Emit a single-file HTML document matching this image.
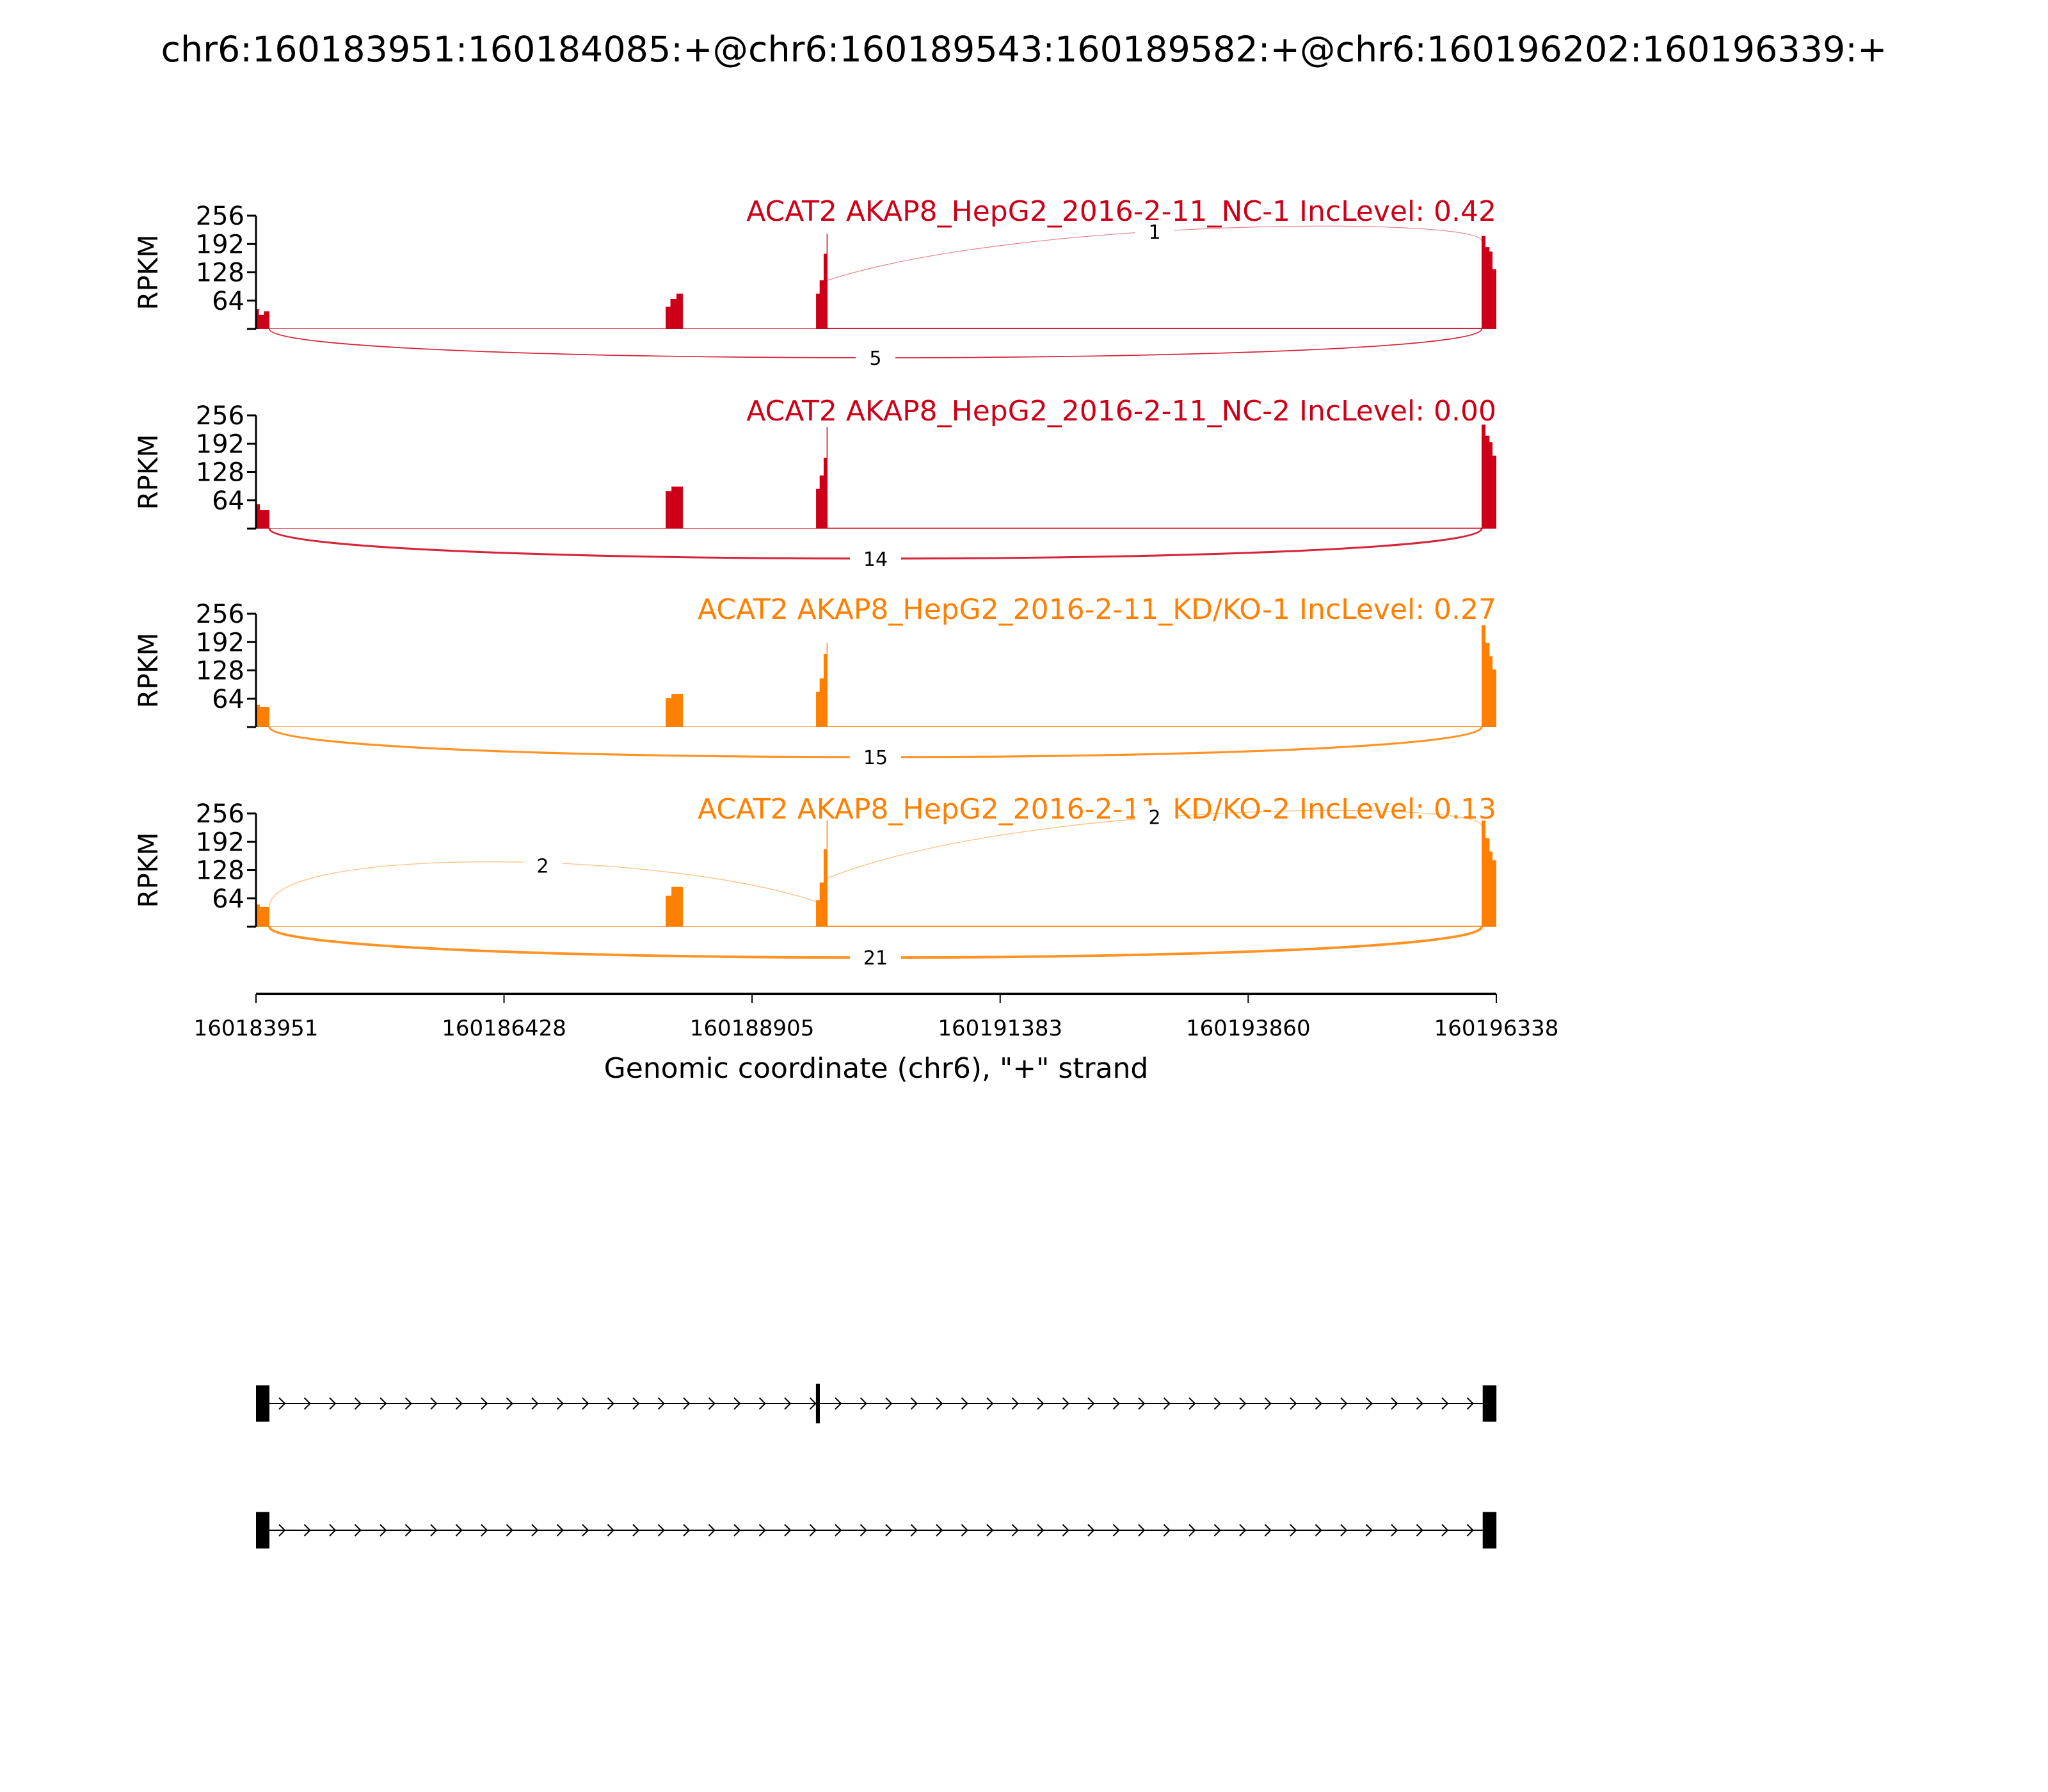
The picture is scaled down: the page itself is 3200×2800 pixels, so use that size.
<!DOCTYPE html>
<html><head><meta charset="utf-8"><style>
body{margin:0;background:#fff}
svg{display:block;font-family:"DejaVu Sans","Liberation Sans",sans-serif}
</style></head><body>
<svg id="fig" width="3200" height="2800" viewBox="0 0 3200 2800" xmlns="http://www.w3.org/2000/svg">
<rect width="3200" height="2800" fill="#fff"/>
<text x="1600" y="96" font-size="55.5" text-anchor="middle">chr6:160183951:160184085:+@chr6:160189543:160189582:+@chr6:160196202:160196339:+</text>
<g id="panels"></g>
<g id="xaxis"></g>
<g id="genes"></g>
</svg>
<script>
const gStart = 160183951, gEnd = 160196338;
const sampleNames = ["ACAT2 AKAP8_HepG2_2016-2-11_NC-1 IncLevel: 0.42","ACAT2 AKAP8_HepG2_2016-2-11_NC-2 IncLevel: 0.00","ACAT2 AKAP8_HepG2_2016-2-11_KD/KO-1 IncLevel: 0.27","ACAT2 AKAP8_HepG2_2016-2-11_KD/KO-2 IncLevel: 0.13"];
const sampleColors = ["#cc0018","#cc0018","#ff8000","#ff8000"];
const yTicks = [0,64,128,192,256];
const yMax = 256;
// coverage: [genomic start, genomic end, rpkm]
const cov1 = [[160183951,160183980,45],[160183980,160184030,32],[160184030,160184085,40],[160184085,160188042,1],[160188042,160188090,50],[160188090,160188150,68],[160188150,160188214,80],[160188214,160189544,1],[160189544,160189580,80],[160189580,160189620,110],[160189620,160189650,170],[160189650,160189659,215],[160189659,160196191,2],[160196191,160196230,210],[160196230,160196270,185],[160196270,160196300,175],[160196300,160196338,135]];
const cov2 = [[160183951,160183990,55],[160183990,160184085,42],[160184085,160188042,1],[160188042,160188100,85],[160188100,160188214,95],[160188214,160189544,1],[160189544,160189580,90],[160189580,160189620,120],[160189620,160189650,160],[160189650,160189659,230],[160189659,160196191,2],[160196191,160196230,235],[160196230,160196270,210],[160196270,160196300,195],[160196300,160196338,165]];
const cov3 = [[160183951,160183990,50],[160183990,160184085,45],[160184085,160188042,1],[160188042,160188100,65],[160188100,160188214,75],[160188214,160189544,1],[160189544,160189580,80],[160189580,160189620,110],[160189620,160189650,165],[160189650,160189659,190],[160189659,160196191,2],[160196191,160196230,230],[160196230,160196270,190],[160196270,160196300,160],[160196300,160196338,130]];
const cov4 = [[160183951,160183990,50],[160183990,160184085,45],[160184085,160188042,1],[160188042,160188100,70],[160188100,160188214,90],[160188214,160189544,1],[160189544,160189580,60],[160189580,160189620,100],[160189620,160189650,175],[160189650,160189659,240],[160189659,160196191,2],[160196191,160196230,240],[160196230,160196270,200],[160196270,160196300,170],[160196300,160196338,150]];
const coverages = [cov1,cov2,cov3,cov4];
// junctions: [donor, acceptor, count, above(1)/below(0)]
const junc1 = [[160189659,160196191,1,1],[160184085,160196191,5,0]];
const junc2 = [[160184085,160196191,14,0]];
const junc3 = [[160184085,160196191,15,0]];
const junc4 = [[160184085,160189544,2,1],[160189659,160196191,2,1],[160184085,160196191,21,0]];
const junctions = [junc1,junc2,junc3,junc4];
const xTicks = [160183951,160186428,160188905,160191383,160193860,160196338];
const geneExons1 = [[160183951,160184085],[160189543,160189582],[160196202,160196339]];
const geneExons2 = [[160183951,160184085],[160196202,160196339]];

const NS = "http://www.w3.org/2000/svg";
const X0 = 400, X1 = 2338;
const baselines = [514,826,1136,1448], PH = 177;
const x = g => X0 + (g - gStart) / (gEnd - gStart) * (X1 - X0);
function mk(tag, attrs, parent){const e=document.createElementNS(NS,tag);for(const k in attrs)e.setAttribute(k,attrs[k]);parent.appendChild(e);return e;}
const panels = document.getElementById('panels');
coverages.forEach((cov, i) => {
  const base = baselines[i], col = sampleColors[i];
  const y = v => base - v / yMax * PH;
  const g = mk('g', {}, panels);
  
  
  let d = 'M' + x(cov[0][0]) + ' ' + base;
  cov.forEach(s => { d += ' L' + x(s[0]) + ' ' + y(s[2]) + ' L' + x(s[1]) + ' ' + y(s[2]); });
  d += ' L' + x(cov[cov.length-1][1]) + ' ' + base + ' Z';
  const area = mk('path', {d: d, fill: col, stroke: 'none'}, g);
  
  
  const ax = mk('line', {x1: X0, x2: X0, y1: y(yMax), y2: base, stroke: '#000', 'stroke-width': 3}, g);
  
  
  yTicks.forEach(t => {
    mk('line', {x1: X0 - 14, x2: X0, y1: y(t), y2: y(t), stroke: '#000', 'stroke-width': 3}, g);
    if (t > 0) {
      const tl = mk('text', {x: X0 - 18, y: y(t) + 14, 'font-size': 40, 'text-anchor': 'end'}, g);
      
      
      tl.textContent = t;
    }
  });
  const yl = mk('text', {x: 0, y: 0, 'font-size': 42, 'text-anchor': 'middle', transform: 'translate(246,' + (base - PH/2) + ') rotate(-90)'}, g);
  
  
  yl.textContent = 'RPKM';
  const tt = mk('text', {x: X1, y: y(yMax) + 8, 'font-size': 44, 'text-anchor': 'end', fill: col}, g);
  
  
  tt.textContent = sampleNames[i];
  const covAt = gp => { let m = 0; for (const s of cov) if (gp >= s[0] && gp <= s[1]) m = Math.max(m, s[2]); return m; };
  junctions[i].forEach(j => {
    const xa = x(j[0]), xb = x(j[1]), w = xb - xa;
    let ya, yb, peak, c1x = xa, c2x = xb;
    if (j[3]) {
      ya = y(Math.min(covAt(j[0]), 110)); yb = y(covAt(j[1]) * 0.95);
      const long = w > 950;
      peak = Math.min(ya, yb) - (long ? 20 : 62);
      if (long) c1x = xa + 0.3 * w; else c2x = xb - 0.3 * w;
    } else { ya = base; yb = base; peak = base + 44 + j[2] * 0.2; }
    const c = (8 * peak - ya - yb) / 6;
    const p = mk('path', {d: 'M' + xa + ' ' + ya + ' C' + c1x + ' ' + c + ' ' + c2x + ' ' + c + ' ' + xb + ' ' + yb, fill: 'none', stroke: col, 'stroke-width': Math.min(1 + j[2] * 0.15, 4), 'stroke-opacity': j[3] ? 0.5 : 0.85}, g);
    
    
    const mx = (xa + xb) / 2, my = (ya + 3*c + 3*c + yb) / 8 + (j[3] ? 6 : 0);
    const lbl = String(j[2]);
    mk('rect', {x: mx - 22 - lbl.length * 9, y: my - 18, width: 44 + lbl.length * 18, height: 36, fill: '#fff'}, g);
    const jt = mk('text', {x: mx, y: my + 11, 'font-size': 30, 'text-anchor': 'middle'}, g);
    
    
    jt.textContent = lbl;
  });
});
const xa = document.getElementById('xaxis');
mk('line', {x1: X0, x2: X1, y1: 1553, y2: 1553, stroke: '#000', 'stroke-width': 4}, xa);
xTicks.forEach(t => {
  mk('line', {x1: x(t), x2: x(t), y1: 1553, y2: 1567, stroke: '#000', 'stroke-width': 2}, xa);
  const tl = mk('text', {x: x(t), y: 1618, 'font-size': 34, 'text-anchor': 'middle'}, xa);
  
  
  tl.textContent = t;
});
const xt = mk('text', {x: (X0 + X1) / 2, y: 1684, 'font-size': 44, 'text-anchor': 'middle'}, xa);


xt.textContent = 'Genomic coordinate (chr6), "+" strand';
const gm = document.getElementById('genes');
[[geneExons1, 2193], [geneExons2, 2391]].forEach((pair, k) => {
  const ex = pair[0], cy = pair[1];
  const g = mk('g', {}, gm);
  
  
  mk('line', {x1: x(ex[0][1]), x2: x(ex[ex.length-1][0]), y1: cy, y2: cy, stroke: '#000', 'stroke-width': 2}, g);
  for (let ax2 = x(ex[0][1]) + 20; ax2 < x(ex[ex.length-1][0]) - 10; ax2 += 39.5) {
    mk('path', {d: 'M' + (ax2 - 5) + ' ' + (cy - 9) + ' L' + (ax2 + 4) + ' ' + cy + ' L' + (ax2 - 5) + ' ' + (cy + 9), fill: 'none', stroke: '#000', 'stroke-width': 2}, g);
  }
  ex.forEach(e => {
    const w = Math.max(x(e[1]) - x(e[0]), 4);
    const h = (e[1] - e[0] < 60) ? 62 : 57;
    const r = mk('rect', {x: x(e[0]), y: cy - h/2, width: w, height: h, fill: '#000'}, g);
    
    
  });
});
</script>
</body></html>
